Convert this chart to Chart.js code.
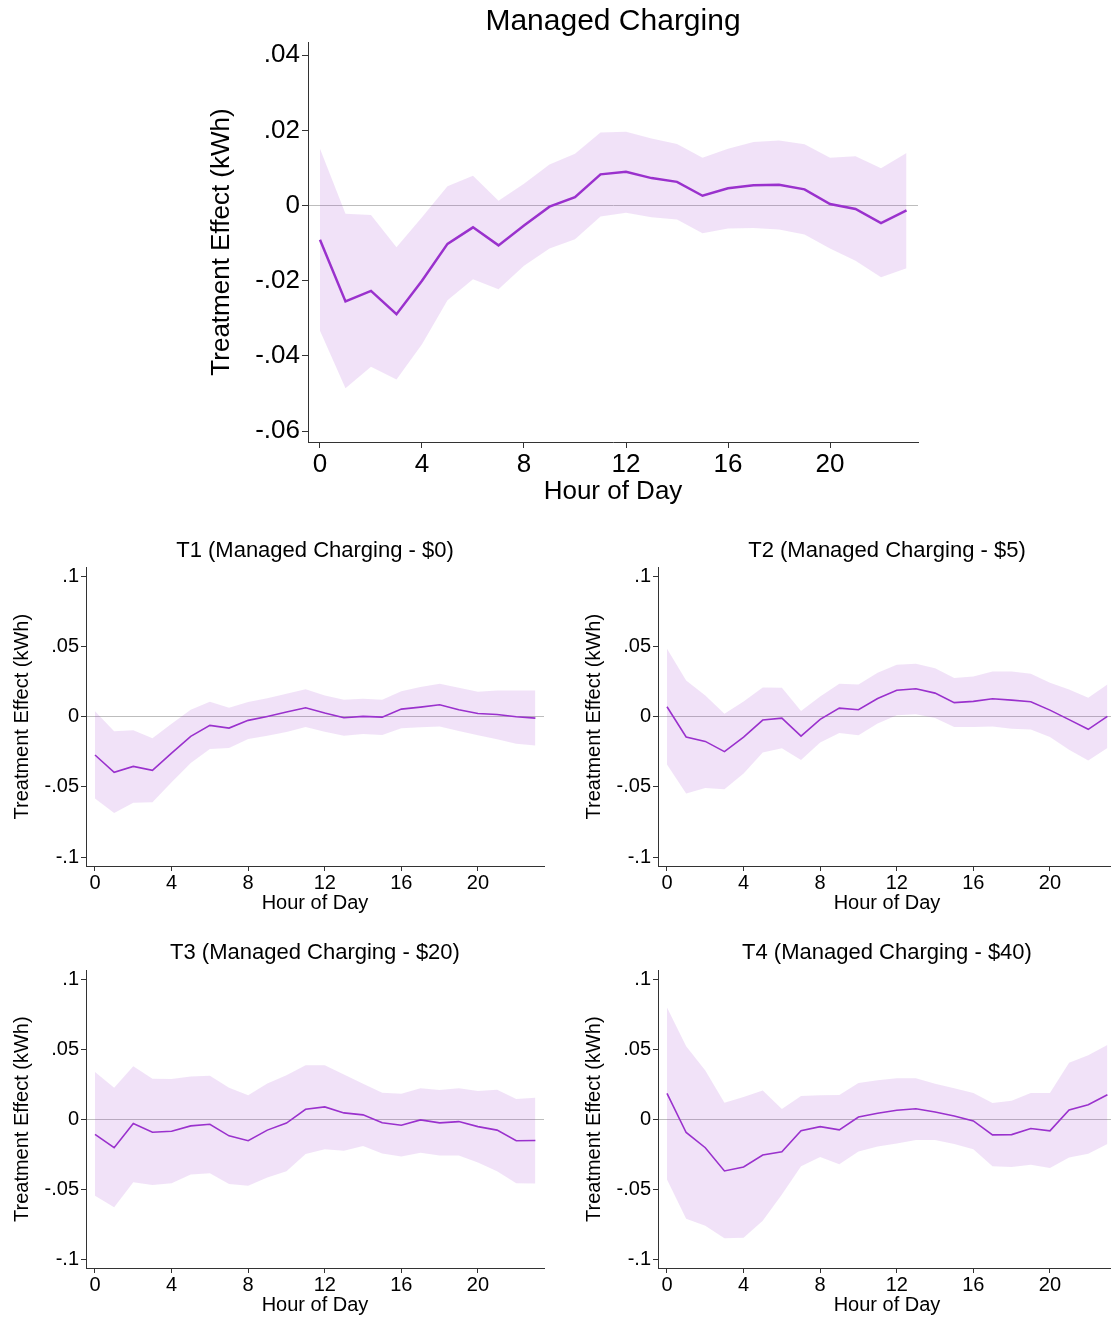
<!DOCTYPE html>
<html>
<head>
<meta charset="utf-8">
<script src="https://cdn.jsdelivr.net/npm/chart.js@4.4.1/dist/chart.umd.min.js"></script>
<style>
  html, body { margin: 0; padding: 0; background: #fff; overflow: hidden; }
  body { width: 1111px; height: 1319px; position: relative; }
  .box { position: absolute; }
</style>
</head>
<body>
<div class="box" style="left:190px;top:0px;width:760px;height:510px"><canvas id="top"></canvas></div>
<div class="box" style="left:0px;top:528px;width:560px;height:392px"><canvas id="t1"></canvas></div>
<div class="box" style="left:572px;top:528px;width:560px;height:392px"><canvas id="t2"></canvas></div>
<div class="box" style="left:0px;top:931px;width:560px;height:388px"><canvas id="t3"></canvas></div>
<div class="box" style="left:572px;top:931px;width:560px;height:388px"><canvas id="t4"></canvas></div>
<script>
// hours of the day on the x axis
const hours = [0,1,2,3,4,5,6,7,8,9,10,11,12,13,14,15,16,17,18,19,20,21,22,23];
const xTicks = [0, 4, 8, 12, 16, 20];

// tick values / labels (Stata style)
const topYTicks = [-0.06, -0.04, -0.02, 0, 0.02, 0.04];
const topYLabels = ['-.06', '-.04', '-.02', '0', '.02', '.04'];
const smallYTicks = [-0.1, -0.05, 0, 0.05, 0.1];
const smallYLabels = ['-.1', '-.05', '0', '.05', '.1'];

// pooled managed charging
const topMean  = [-0.0091,-0.0255,-0.0227,-0.0289,-0.0200,-0.0102,-0.0058,-0.0106,-0.0053,-0.0003,0.0022,0.0083,0.0090,0.0073,0.0063,0.0026,0.0046,0.0054,0.0055,0.0043,0.0004,-0.0009,-0.0047,-0.0013];
const topUpper = [0.0151,-0.0022,-0.0025,-0.0111,-0.0031,0.0051,0.0079,0.0013,0.0058,0.0109,0.0138,0.0194,0.0196,0.0178,0.0164,0.0127,0.0151,0.0169,0.0173,0.0163,0.0127,0.0131,0.0099,0.0140];
const topLower = [-0.0333,-0.0486,-0.0429,-0.0463,-0.0369,-0.0252,-0.0196,-0.0223,-0.0160,-0.0114,-0.0090,-0.0029,-0.0019,-0.0031,-0.0037,-0.0074,-0.0061,-0.0060,-0.0064,-0.0077,-0.0114,-0.0147,-0.0191,-0.0167];

// T1 ($0)
const t1Mean  = [-0.0273,-0.0396,-0.0354,-0.0382,-0.0259,-0.0140,-0.0062,-0.0081,-0.0026,0.0002,0.0033,0.0064,0.0026,-0.0007,0.0002,-0.0003,0.0054,0.0068,0.0085,0.0050,0.0023,0.0016,0.0000,-0.0010];
const t1Upper = [0.0038,-0.0104,-0.0097,-0.0154,-0.0050,0.0050,0.0107,0.0064,0.0104,0.0132,0.0164,0.0196,0.0151,0.0121,0.0128,0.0121,0.0182,0.0211,0.0235,0.0206,0.0178,0.0187,0.0187,0.0187];
const t1Lower = [-0.0583,-0.0686,-0.0614,-0.0610,-0.0467,-0.0330,-0.0230,-0.0223,-0.0159,-0.0135,-0.0109,-0.0074,-0.0107,-0.0135,-0.0124,-0.0131,-0.0083,-0.0076,-0.0069,-0.0102,-0.0133,-0.0161,-0.0192,-0.0206];

// T2 ($5)
const t2Mean  = [0.0071,-0.0145,-0.0176,-0.0249,-0.0145,-0.0024,-0.0010,-0.0138,-0.0019,0.0061,0.0050,0.0130,0.0189,0.0199,0.0168,0.0100,0.0109,0.0128,0.0118,0.0107,0.0047,-0.0021,-0.0090,0.0002];
const t2Upper = [0.0484,0.0258,0.0151,0.0021,0.0109,0.0208,0.0206,0.0040,0.0144,0.0235,0.0230,0.0313,0.0370,0.0377,0.0346,0.0275,0.0287,0.0322,0.0322,0.0306,0.0242,0.0194,0.0135,0.0230];
const t2Lower = [-0.0341,-0.0548,-0.0508,-0.0517,-0.0405,-0.0256,-0.0225,-0.0309,-0.0183,-0.0117,-0.0133,-0.0048,0.0011,0.0018,-0.0010,-0.0074,-0.0074,-0.0069,-0.0085,-0.0092,-0.0145,-0.0235,-0.0313,-0.0223];

// T3 ($20)
const t3Mean  = [-0.0109,-0.0204,-0.0031,-0.0093,-0.0086,-0.0048,-0.0036,-0.0119,-0.0154,-0.0078,-0.0028,0.0071,0.0088,0.0045,0.0031,-0.0026,-0.0043,-0.0005,-0.0026,-0.0017,-0.0053,-0.0078,-0.0154,-0.0152];
const t3Upper = [0.0337,0.0225,0.0379,0.0289,0.0287,0.0306,0.0310,0.0225,0.0171,0.0256,0.0315,0.0386,0.0386,0.0320,0.0253,0.0189,0.0182,0.0221,0.0209,0.0221,0.0201,0.0211,0.0144,0.0154];
const t3Lower = [-0.0548,-0.0629,-0.0451,-0.0470,-0.0458,-0.0396,-0.0387,-0.0463,-0.0475,-0.0416,-0.0373,-0.0249,-0.0214,-0.0226,-0.0192,-0.0245,-0.0266,-0.0240,-0.0259,-0.0259,-0.0309,-0.0373,-0.0458,-0.0460];

// T4 ($40)
const t4Mean  = [0.0185,-0.0095,-0.0204,-0.0370,-0.0342,-0.0256,-0.0233,-0.0083,-0.0053,-0.0076,0.0016,0.0043,0.0064,0.0075,0.0052,0.0023,-0.0012,-0.0112,-0.0110,-0.0067,-0.0083,0.0066,0.0104,0.0175];
const t4Upper = [0.0799,0.0522,0.0349,0.0118,0.0159,0.0206,0.0073,0.0166,0.0171,0.0173,0.0258,0.0278,0.0292,0.0292,0.0253,0.0221,0.0187,0.0116,0.0132,0.0187,0.0187,0.0403,0.0458,0.0531];
const t4Lower = [-0.0432,-0.0712,-0.0762,-0.0852,-0.0847,-0.0726,-0.0539,-0.0337,-0.0270,-0.0323,-0.0231,-0.0195,-0.0174,-0.0149,-0.0149,-0.0178,-0.0214,-0.0337,-0.0342,-0.0325,-0.0349,-0.0273,-0.0247,-0.0178];

Chart.defaults.font.family = "'Liberation Sans', Arial, sans-serif";
Chart.defaults.color = '#000';

const lineColor = '#9a32cd';
const bandColor = 'rgba(154, 50, 205, 0.14)';
const axisColor = '#333';

// center the title over the plot region, like Stata does
const titleOverPlot = {
  id: 'titleOverPlot',
  afterLayout(chart) {
    const tb = chart.titleBlock;
    if (!tb) return;
    tb.left = chart.chartArea.left;
    tb.right = chart.chartArea.right;
    tb.width = tb.right - tb.left;
  }
};

function pts(vals) {
  return hours.map((h, i) => ({ x: h, y: vals[i] }));
}

function makeChart(id, title, mean, lower, upper, o) {
  new Chart(document.getElementById(id), {
    type: 'line',
    data: {
      datasets: [
        { data: pts(upper), borderWidth: 0, pointRadius: 0, fill: '+1', backgroundColor: bandColor, tension: 0 },
        { data: pts(lower), borderWidth: 0, pointRadius: 0, fill: false, tension: 0 },
        { data: pts(mean), borderColor: lineColor, borderWidth: o.lw, pointRadius: 0, fill: false, tension: 0 }
      ]
    },
    plugins: [titleOverPlot],
    options: {
      responsive: true,
      maintainAspectRatio: false,
      animation: false,
      layout: { padding: { left: 0, right: o.padRight, top: 0, bottom: 0 } },
      plugins: {
        legend: { display: false },
        tooltip: { enabled: false },
        title: {
          display: true,
          text: title,
          color: '#000',
          font: { size: o.titleSize, weight: 'normal' },
          padding: { top: o.titleTop, bottom: o.titleBottom }
        }
      },
      scales: {
        x: {
          type: 'linear',
          min: -0.47,
          max: 23.45,
          afterBuildTicks: s => { s.ticks = xTicks.map(v => ({ value: v })); },
          afterFit: s => { s.height = o.xHeight; },
          border: { display: true, color: axisColor, width: 1 },
          grid: { drawOnChartArea: false, drawTicks: true, tickLength: o.tick, tickColor: axisColor },
          ticks: { font: { size: o.tickSize, lineHeight: 1 }, padding: o.xTickPad, maxRotation: 0, autoSkip: false },
          title: { display: true, text: 'Hour of Day', font: { size: o.axisTitleSize }, padding: { top: 0, bottom: o.xTitleBottom } }
        },
        y: {
          min: o.yMin,
          max: o.yMax,
          afterBuildTicks: s => { s.ticks = o.yTicks.map(v => ({ value: v })); },
          afterFit: s => { s.width = o.yWidth; },
          border: { display: true, color: axisColor, width: 1 },
          grid: {
            drawTicks: true,
            tickLength: o.tick,
            tickColor: axisColor,
            color: c => (c.tick && c.tick.value === 0) ? '#bdbdbd' : 'rgba(0,0,0,0)',
            lineWidth: 1
          },
          ticks: {
            font: { size: o.tickSize, lineHeight: 1 },
            padding: 2,
            autoSkip: false,
            callback: (v, i) => o.yLabels[i]
          },
          title: { display: true, text: 'Treatment Effect (kWh)', font: { size: o.axisTitleSize }, padding: { top: o.yTitlePad, bottom: 0 } }
        }
      }
    }
  });
}

const topOpts = {
  lw: 2.5, padRight: 32, titleSize: 30, titleTop: 4, titleBottom: 2,
  xHeight: 68, tick: 6, tickSize: 26, xTickPad: 4, axisTitleSize: 26, xTitleBottom: 3,
  yMin: -0.0629, yMax: 0.0435, yTicks: topYTicks, yLabels: topYLabels, yWidth: 118, yTitlePad: 16
};
makeChart('top', 'Managed Charging', topMean, topLower, topUpper, topOpts);

const row1 = {
  lw: 1.6, padRight: 16, titleSize: 22, titleTop: 10, titleBottom: 3,
  xHeight: 54, tick: 5, tickSize: 20, xTickPad: 2, axisTitleSize: 20, xTitleBottom: 5,
  yMin: -0.1064, yMax: 0.1064, yTicks: smallYTicks, yLabels: smallYLabels, yWidth: 86, yTitlePad: 10
};
const row2 = Object.assign({}, row1, { titleTop: 9, titleBottom: 4, xHeight: 51, xTitleBottom: 2 });

makeChart('t1', 'T1 (Managed Charging - $0)', t1Mean, t1Lower, t1Upper, row1);
makeChart('t2', 'T2 (Managed Charging - $5)', t2Mean, t2Lower, t2Upper, row1);
makeChart('t3', 'T3 (Managed Charging - $20)', t3Mean, t3Lower, t3Upper, row2);
makeChart('t4', 'T4 (Managed Charging - $40)', t4Mean, t4Lower, t4Upper, row2);
</script>
</body>
</html>
